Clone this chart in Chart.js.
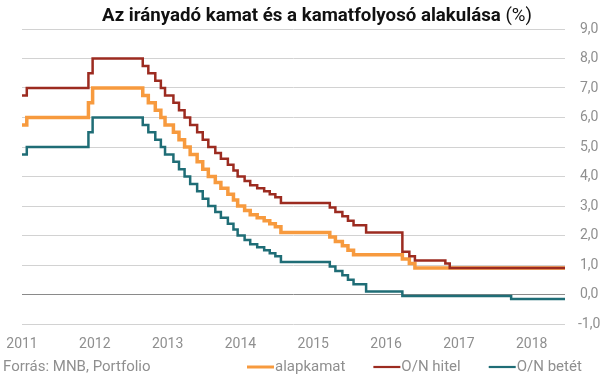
<!DOCTYPE html>
<html>
<head>
<meta charset="utf-8">
<script src="https://cdn.jsdelivr.net/npm/chart.js@4/dist/chart.umd.min.js"></script>
<style>
  html, body { margin: 0; padding: 0; background: #fff; }
  #c { display: block; }
</style>
</head>
<body>
<canvas id="c" width="605" height="378"></canvas>
<script>
// ---- data ----
const changeDates = [
  '2011-01-01','2011-01-25','2011-11-30','2011-12-21',
  '2012-08-29','2012-09-26','2012-10-31','2012-11-28','2012-12-19',
  '2013-01-30','2013-02-27','2013-03-27','2013-04-24','2013-05-29','2013-06-26',
  '2013-07-24','2013-08-28','2013-09-25','2013-10-30','2013-11-27','2013-12-18',
  '2014-01-22','2014-02-19','2014-03-26','2014-04-30','2014-05-28','2014-06-25','2014-07-23',
  '2015-03-25','2015-04-22','2015-05-27','2015-06-24','2015-07-22','2015-09-23',
  '2016-03-23','2016-04-27','2016-05-25','2016-10-25','2016-11-16',
  '2017-09-20','2018-06-17'
];
const alapkamat = [
  5.75,6.00,6.50,7.00,
  6.75,6.50,6.25,6.00,5.75,
  5.50,5.25,5.00,4.75,4.50,4.25,
  4.00,3.80,3.60,3.40,3.20,3.00,
  2.85,2.70,2.60,2.50,2.40,2.30,2.10,
  1.95,1.80,1.65,1.50,1.35,1.35,
  1.20,1.05,0.90,0.90,0.90,
  0.90,0.90
];
const onHitel = [
  6.75,7.00,7.50,8.00,
  7.75,7.50,7.25,7.00,6.75,
  6.50,6.25,6.00,5.75,5.50,5.25,
  5.00,4.80,4.60,4.40,4.20,4.00,
  3.85,3.70,3.60,3.50,3.40,3.30,3.10,
  2.95,2.80,2.65,2.50,2.35,2.10,
  1.45,1.30,1.15,1.05,0.90,
  0.90,0.90
];
const onBetet = [
  4.75,5.00,5.50,6.00,
  5.75,5.50,5.25,5.00,4.75,
  4.50,4.25,4.00,3.75,3.50,3.25,
  3.00,2.80,2.60,2.40,2.20,2.00,
  1.85,1.70,1.60,1.50,1.40,1.30,1.10,
  0.95,0.80,0.65,0.50,0.35,0.10,
  -0.05,-0.05,-0.05,-0.05,-0.05,
  -0.15,-0.15
];
const seriesNames = ['alapkamat', 'O/N hitel', 'O/N betét'];
const xTickYears = [2011, 2012, 2013, 2014, 2015, 2016, 2017, 2018];
const yTickValues = [-1, 0, 1, 2, 3, 4, 5, 6, 7, 8, 9];
const titleBold = 'Az irányadó kamat és a kamatfolyosó alakulása';
const titleNormal = ' (%)';
const sourceText = 'Forrás: MNB, Portfolio';

// ---- helpers ----
function toYear(d) {
  const [y, m, dd] = d.split('-').map(Number);
  const s = Date.UTC(y, 0, 1), e = Date.UTC(y + 1, 0, 1);
  return y + (Date.UTC(y, m - 1, dd) - s) / (e - s);
}
const xs = changeDates.map(toYear);
const pts = arr => arr.map((v, i) => ({ x: xs[i], y: v }));

const FONT = 'Roboto';
const GRAY = '#8f8f8f';

const colors = ['#F79A3E', '#9C2B20', '#1F6D76'];
const widths = [3.5, 2.5, 2.5];

const overlay = {
  id: 'overlay',
  afterDraw(chart) {
    const ctx = chart.ctx;
    ctx.save();
    // title
    ctx.textBaseline = 'alphabetic';
    ctx.fillStyle = '#111';
    const boldFont = 'bold 18px ' + FONT;
    const normFont = '18px ' + FONT;
    ctx.font = boldFont;
    const w1 = ctx.measureText(titleBold).width;
    ctx.font = normFont;
    const w2 = ctx.measureText(titleNormal).width;
    const targetW = 430, left = 102;
    const sx = targetW / (w1 + w2);
    ctx.save();
    ctx.translate(left, 21);
    ctx.scale(sx, 1);
    ctx.font = boldFont;
    ctx.textAlign = 'left';
    ctx.fillText(titleBold, 0, 0);
    ctx.font = normFont;
    ctx.fillText(titleNormal, w1, 0);
    ctx.restore();

    // source
    ctx.font = '15px ' + FONT;
    ctx.fillStyle = GRAY;
    ctx.textBaseline = 'middle';
    ctx.textAlign = 'left';
    ctx.fillText(sourceText, 3, 367);

    // legend
    let x = 247;
    const y = 367;
    chart.data.datasets.forEach((ds, i) => {
      ctx.strokeStyle = ds.borderColor;
      ctx.lineWidth = i === 0 ? 3 : 2.2;
      ctx.beginPath();
      ctx.moveTo(x, y);
      ctx.lineTo(x + 27, y);
      ctx.stroke();
      x += 28;
      ctx.fillStyle = GRAY;
      ctx.fillText(ds.label, x, y);
      x += ctx.measureText(ds.label).width + 28;
    });
    ctx.restore();
  }
};

new Chart(document.getElementById('c'), {
  type: 'line',
  data: {
    datasets: [
      { label: seriesNames[0], data: pts(alapkamat), borderColor: colors[0], borderWidth: widths[0], order: 1 },
      { label: seriesNames[1], data: pts(onHitel), borderColor: colors[1], borderWidth: widths[1], order: 0 },
      { label: seriesNames[2], data: pts(onBetet), borderColor: colors[2], borderWidth: widths[2], order: 2 }
    ]
  },
  options: {
    responsive: false,
    animation: false,
    devicePixelRatio: 1,
    layout: { padding: { left: 22, right: 0, top: 29, bottom: 24 } },
    elements: {
      point: { radius: 0, hoverRadius: 0 },
      line: { tension: 0, stepped: 'before', fill: false, borderJoinStyle: 'miter', borderCapStyle: 'butt' }
    },
    plugins: {
      legend: { display: false },
      title: { display: false },
      tooltip: { enabled: false }
    },
    scales: {
      x: {
        type: 'linear',
        min: toYear('2011-01-01'),
        max: toYear('2018-06-17'),
        afterBuildTicks: s => { s.ticks = xTickYears.map(v => ({ value: v })); },
        afterFit: s => { s.height = 30; s.paddingLeft = 0; s.paddingRight = 0; },
        grid: { display: false, drawTicks: false },
        border: { display: false },
        ticks: {
          padding: 12,
          maxRotation: 0,
          autoSkip: false,
          color: GRAY,
          font: { family: FONT, size: 14 },
          callback: v => String(v)
        }
      },
      y: {
        position: 'right',
        min: -1,
        max: 9,
        afterBuildTicks: s => { s.ticks = yTickValues.map(v => ({ value: v })); },
        afterFit: s => { s.width = 40; s.paddingTop = 0; s.paddingBottom = 0; },
        grid: {
          drawTicks: false,
          color: c => (c.tick && c.tick.value === 0) ? '#8a8a8a' : '#d2d2d2',
          lineWidth: 1
        },
        border: { display: false },
        ticks: {
          padding: 13,
          crossAlign: 'center',
          color: GRAY,
          font: { family: FONT, size: 14 },
          callback: v => v.toFixed(1).replace('.', ',')
        }
      }
    }
  },
  plugins: [overlay]
});
</script>
</body>
</html>
